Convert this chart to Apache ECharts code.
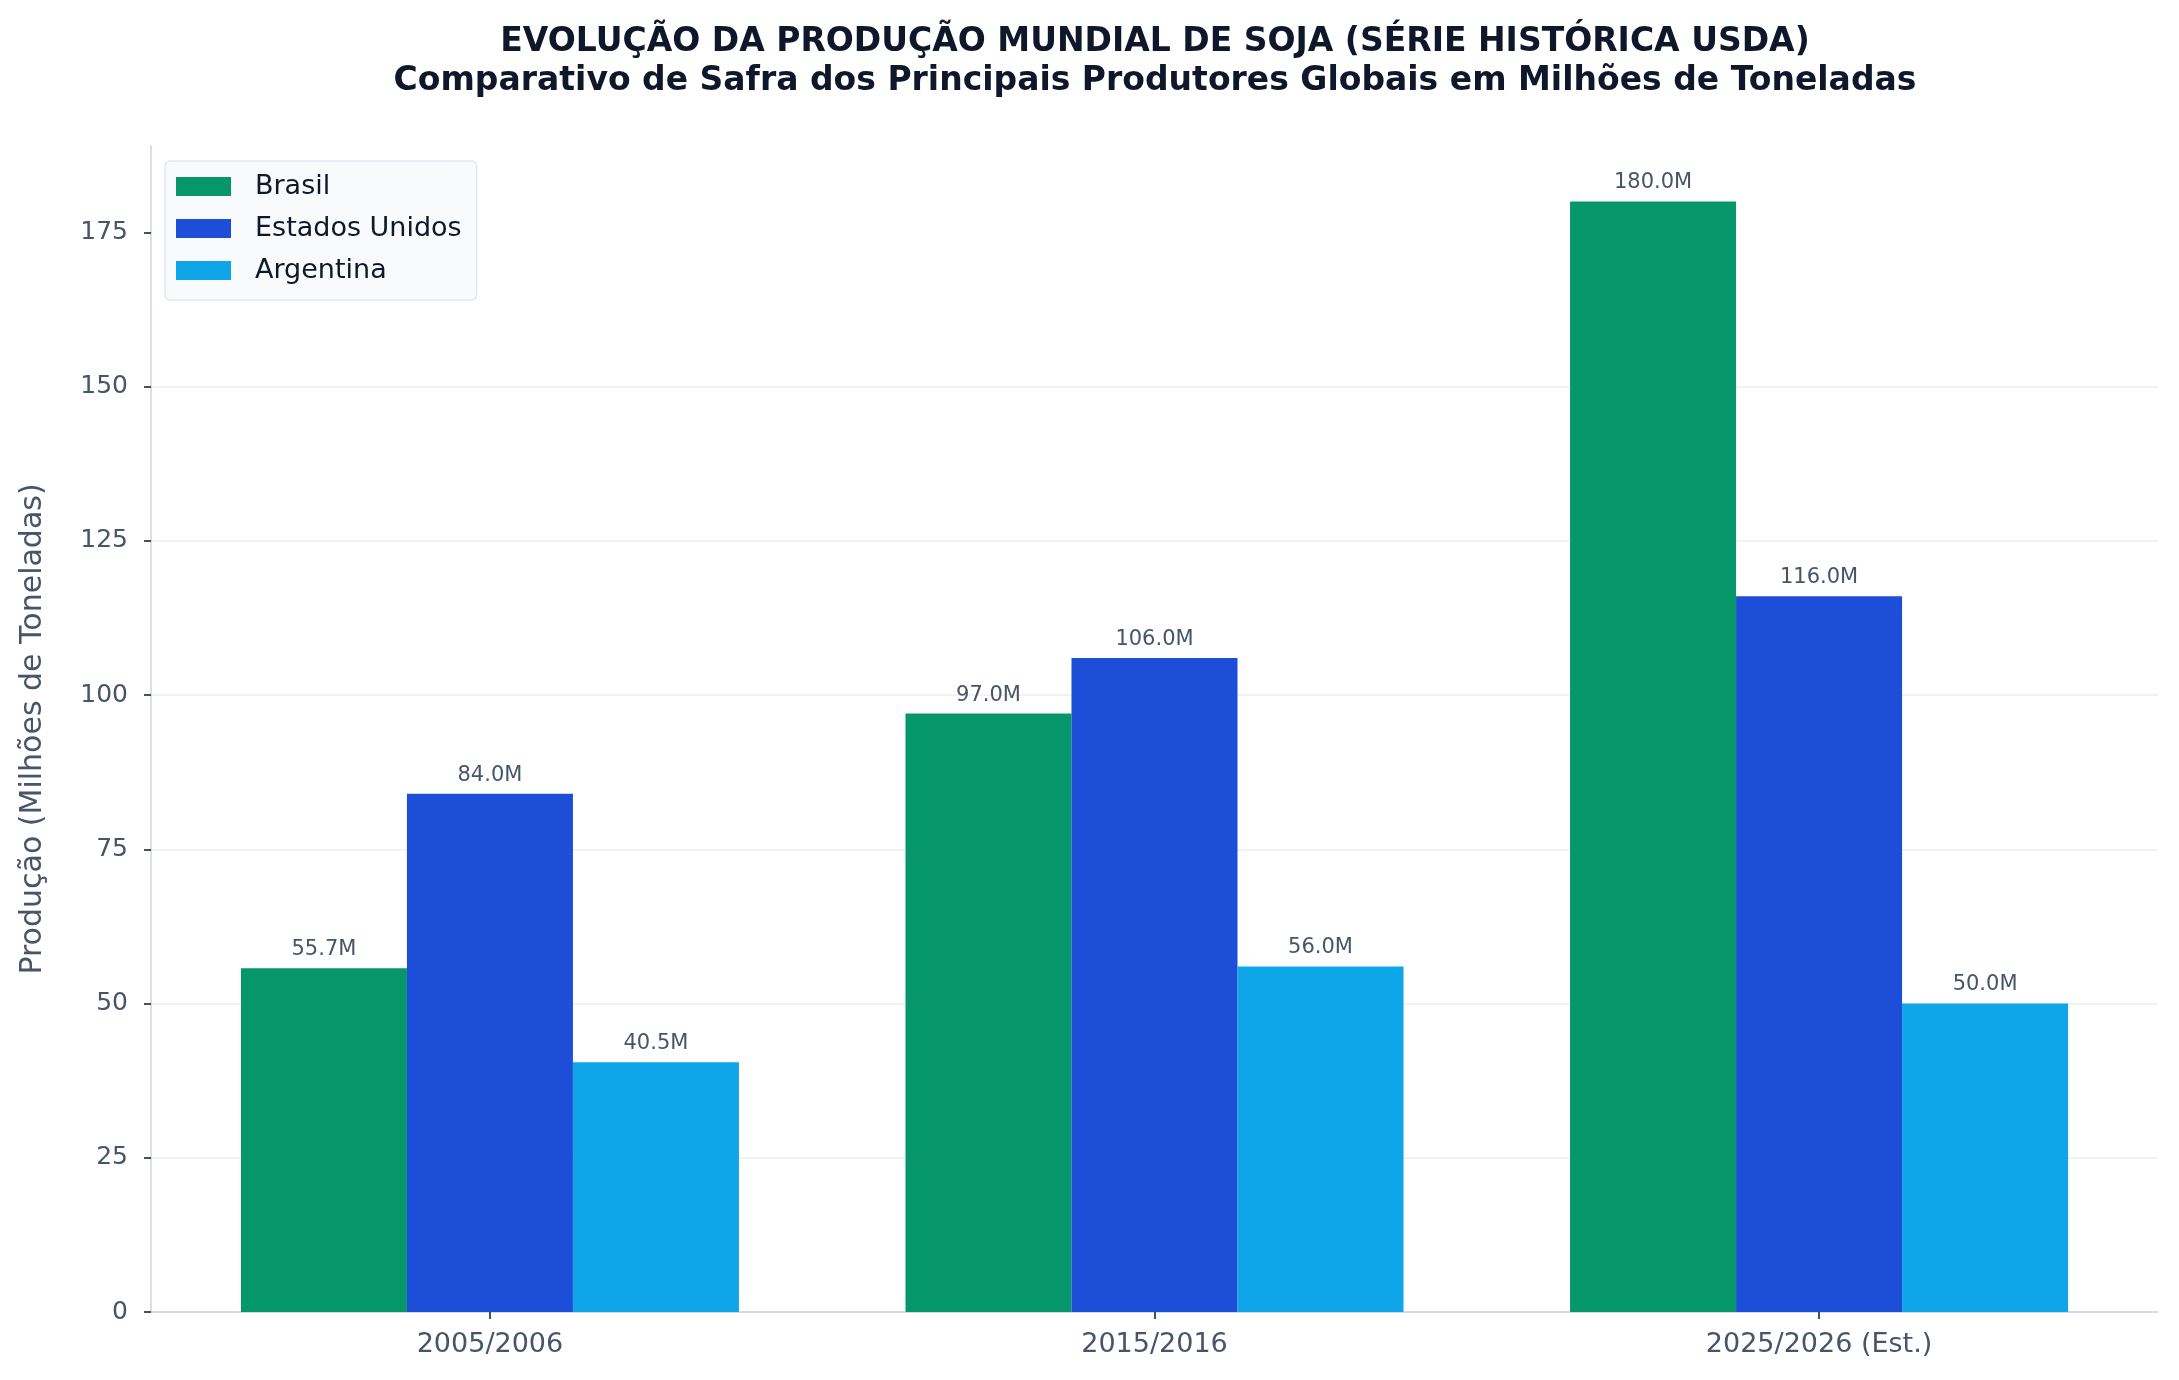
<!DOCTYPE html>
<html lang="pt-BR">
<head>
    <meta charset="UTF-8">
    <title>soja</title>
    <style>
        html,
        body {
            margin: 0;
            padding: 0;
            background: #fff;
        }
    </style>
</head>
<body>
    <div id="show" style="width: 2179px; height: 1380px;"></div>
    <script src="https://cdn.jsdelivr.net/npm/echarts@6/dist/echarts.min.js"></script>
    <script>
        // safras e producao (milhoes de toneladas)
        var safras = ['2005/2006', '2015/2016', '2025/2026 (Est.)'];
        var brasil = [55.7, 97.0, 180.0];
        var estadosUnidos = [84.0, 106.0, 116.0];
        var argentina = [40.5, 56.0, 50.0];
        var yTicks = [0, 25, 50, 75, 100, 125, 150, 175];
        var xTicks = [0, 1, 2];

        var font = 'DejaVu Sans';
        var chart = echarts.init(document.getElementById('show'));

        function serie(name, values, color) {
            return {
                name: name,
                type: 'bar',
                data: values.map(function (v, i) { return [i, v]; }),
                barWidth: 166,
                barGap: '0%',
                itemStyle: { color: color },
                label: {
                    show: true,
                    position: 'top',
                    distance: 8,
                    fontFamily: font,
                    fontSize: 21,
                    color: '#475569',
                    formatter: function (p) { return p.value[1].toFixed(1) + 'M'; }
                }
            };
        }

        chart.setOption({
            backgroundColor: '#ffffff',
            animation: false,
            title: {
                text: 'EVOLUÇÃO DA PRODUÇÃO MUNDIAL DE SOJA (SÉRIE HISTÓRICA USDA)\nComparativo de Safra dos Principais Produtores Globais em Milhões de Toneladas',
                left: 1155,
                top: 23,
                textAlign: 'center',
                padding: 0,
                textStyle: {
                    fontFamily: font,
                    fontSize: 33,
                    fontWeight: 'bold',
                    lineHeight: 39,
                    color: '#0f172a'
                }
            },
            legend: {
                orient: 'vertical',
                left: 165,
                top: 161,
                padding: [12, 15, 16, 11],
                itemWidth: 55,
                itemHeight: 19,
                itemGap: 15,
                backgroundColor: '#f8fafc',
                borderColor: '#e2e8f0',
                borderWidth: 1.5,
                borderRadius: 5,
                icon: 'rect',
                textStyle: {
                    fontFamily: font,
                    fontSize: 27,
                    lineHeight: 27,
                    color: '#0f172a',
                    padding: [0, 0, 0, 19]
                },
                data: ['Brasil', 'Estados Unidos', 'Argentina']
            },
            grid: {
                left: 151,
                right: 21,
                top: 146,
                bottom: 68,
                containLabel: false
            },
            xAxis: {
                type: 'value',
                min: -0.51,
                max: 2.51,
                splitLine: { show: false },
                axisLine: { show: true, onZero: false, lineStyle: { color: '#cbd5e1', width: 1.5 } },
                axisTick: { show: true, customValues: xTicks, length: 7, lineStyle: { color: '#0f172a', width: 1.5 } },
                axisLabel: {
                    customValues: xTicks,
                    fontFamily: font,
                    fontSize: 27,
                    color: '#475569',
                    margin: 19,
                    formatter: function (v) { return safras[Math.round(v)]; }
                }
            },
            yAxis: {
                type: 'value',
                min: 0,
                max: 189,
                interval: 25,
                name: 'Produção (Milhões de Toneladas)',
                nameLocation: 'middle',
                nameGap: 103,
                nameTextStyle: {
                    fontFamily: font,
                    fontSize: 30,
                    color: '#475569'
                },
                axisLine: { show: true, onZero: false, lineStyle: { color: '#cbd5e1', width: 1.5 } },
                axisTick: { show: true, customValues: yTicks, length: 7, lineStyle: { color: '#0f172a', width: 1.5 } },
                axisLabel: {
                    customValues: yTicks,
                    fontFamily: font,
                    fontSize: 25,
                    color: '#475569',
                    margin: 23
                },
                splitLine: { showMaxLine: false, lineStyle: { color: '#eceef3', width: 1.5 } }
            },
            series: [
                serie('Brasil', brasil, '#059669'),
                serie('Estados Unidos', estadosUnidos, '#1d4ed8'),
                serie('Argentina', argentina, '#0ea5e9')
            ]
        });
    </script>
</body>
</html>
